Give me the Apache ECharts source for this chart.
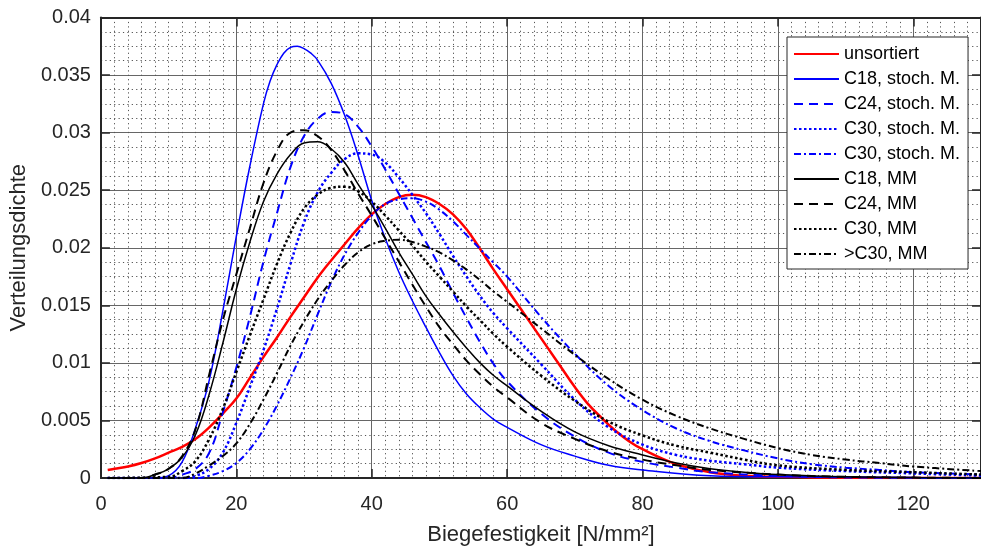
<!DOCTYPE html>
<html><head><meta charset="utf-8">
<script src="https://cdn.jsdelivr.net/npm/echarts@6/dist/echarts.min.js"></script>
<style>html,body{margin:0;padding:0;background:#fff}#c{width:981px;height:551px}</style>
</head><body><div id="c"></div>
<script>
// ---- data ----
const seriesNames = ['unsortiert','C18, stoch. M.','C24, stoch. M.','C30, stoch. M.','C30, stoch. M.\u200B','C18, MM','C24, MM','C30, MM','>C30, MM'];

const redX = [1,2,4,6,8,10,12,14,16,18,20,22,24,26,28,30,32,34,36,38,40,42,44,46,48,50,52,54,56,58,60,62,64,66,68,70,72,74,76,78,80,85,90,95,100,110,130];
const redY = [0.0007,0.0008,0.0010,0.0013,0.0017,0.0022,0.0027,0.0034,0.0044,0.0056,0.0069,0.0087,0.0105,0.0122,0.0140,0.0157,0.0174,0.0189,0.0203,0.0217,0.0229,0.0238,0.0244,0.0246,0.0244,0.0238,0.0229,0.0216,0.0199,0.0181,0.0164,0.0147,0.0130,0.0113,0.0096,0.0079,0.0064,0.0052,0.0041,0.0032,0.0025,0.0012,0.0005,0.0002,0.0001,0.00002,0];

const c18sX = [1,6,8,10,12,14,16,18,20,22,24,25,26,27,28,29,30,31,32,34,36,38,40,42,44,46,48,50,52,54,56,58,60,65,70,75,80,90,100,130];
const c18sY = [0,0,0,0.0002,0.0014,0.0044,0.0085,0.0145,0.0210,0.0271,0.0325,0.0345,0.0359,0.0369,0.0374,0.0375,0.0373,0.0369,0.0363,0.0343,0.0315,0.0280,0.0241,0.0208,0.0179,0.0154,0.0131,0.0109,0.0089,0.0073,0.0061,0.0051,0.0044,0.0029,0.0019,0.0011,0.0007,0.0002,0.0001,0];

const c24sX = [1,10,12,14,16,18,20,22,24,26,28,30,32,34,36,38,40,42,44,46,48,50,52,54,56,58,60,65,70,75,80,85,90,100,110,130];
const c24sY = [0,0,0.0003,0.0008,0.0022,0.0057,0.0096,0.0140,0.0188,0.0230,0.0270,0.0297,0.0312,0.0318,0.0316,0.0305,0.0288,0.0268,0.0247,0.0226,0.0205,0.0184,0.0161,0.0139,0.0118,0.0099,0.0084,0.0056,0.0036,0.0022,0.0014,0.0009,0.0005,0.0002,0.00005,0];

const c30sX = [1,12,14,16,18,20,22,24,26,28,30,32,34,36,38,40,42,44,46,48,50,52,54,56,58,60,65,70,75,80,85,90,95,100,110,120,130];
const c30sY = [0,0,0.0002,0.0008,0.0022,0.0048,0.0079,0.0111,0.0147,0.0186,0.0222,0.0248,0.0265,0.0277,0.0282,0.0281,0.0274,0.0261,0.0246,0.0230,0.0212,0.0193,0.0175,0.0158,0.0143,0.0130,0.0099,0.0068,0.0044,0.0029,0.0020,0.0015,0.0012,0.0009,0.0006,0.0004,0.0002];

const c30s2X = [1,14,16,18,20,22,24,26,28,30,32,34,36,38,40,42,44,46,48,50,52,54,56,58,60,65,70,75,80,85,90,95,100,105,110,115,120,130];
const c30s2Y = [0,0,0.0002,0.0006,0.0013,0.0025,0.0042,0.0063,0.0087,0.0113,0.0142,0.0170,0.0194,0.0213,0.0228,0.0238,0.0242,0.0243,0.0240,0.0233,0.0223,0.0211,0.0199,0.0187,0.0175,0.0140,0.0108,0.0080,0.0059,0.0043,0.0032,0.0024,0.0017,0.0012,0.0009,0.0007,0.0005,0.0003];

const c18mX = [1,6,8,10,12,14,16,18,20,22,24,26,28,30,32,34,36,38,40,42,44,46,48,50,52,54,56,58,60,65,70,75,80,85,90,95,100,110,130];
const c18mY = [0,0,0.0003,0.0008,0.0018,0.0038,0.0073,0.0117,0.0164,0.0205,0.0240,0.0264,0.0281,0.0291,0.0292,0.0286,0.0274,0.0255,0.0237,0.0217,0.0196,0.0177,0.0158,0.0142,0.0127,0.0113,0.0100,0.0089,0.0080,0.0058,0.0040,0.0028,0.0020,0.0013,0.0008,0.0005,0.0003,0.0001,0];

const c24mX = [1,6,8,10,12,14,16,18,20,22,24,26,28,30,32,34,36,38,40,42,44,46,48,50,52,54,56,58,60,65,70,75,80,85,90,100,110,130];
const c24mY = [0,0,0.0003,0.0008,0.0019,0.0043,0.0090,0.0137,0.0177,0.0217,0.0256,0.0284,0.0300,0.0302,0.0297,0.0285,0.0267,0.0247,0.0228,0.0208,0.0188,0.0168,0.0149,0.0131,0.0116,0.0102,0.0090,0.0079,0.0070,0.0048,0.0034,0.0023,0.0016,0.0011,0.0007,0.0003,0.0001,0];

const c30mX = [1,10,12,14,16,18,20,22,24,26,28,30,32,34,36,38,40,42,44,46,48,50,52,54,56,58,60,65,70,75,80,85,90,95,100,110,120,130];
const c30mY = [0,0.0001,0.0006,0.0015,0.0034,0.0060,0.0092,0.0124,0.0155,0.0186,0.0213,0.0234,0.0246,0.0252,0.0253,0.0249,0.0240,0.0228,0.0215,0.0202,0.0188,0.0175,0.0162,0.0149,0.0137,0.0125,0.0114,0.0089,0.0067,0.0049,0.0037,0.0028,0.0022,0.0016,0.0011,0.0007,0.0005,0.0003];

const gtc30mX = [1,12,14,16,18,20,22,24,26,28,30,32,34,36,38,40,42,44,46,48,50,52,54,56,58,60,65,70,75,80,85,90,95,100,105,110,115,120,130];
const gtc30mY = [0,0,0.0004,0.0011,0.0019,0.0030,0.0047,0.0068,0.0091,0.0115,0.0136,0.0155,0.0171,0.0185,0.0196,0.0203,0.0206,0.0207,0.0205,0.0201,0.0196,0.0189,0.0181,0.0172,0.0162,0.0153,0.0130,0.0107,0.0086,0.0068,0.0054,0.0043,0.0034,0.0026,0.0020,0.0016,0.0013,0.0010,0.0006];

const xTickValues = [0,20,40,60,80,100,120];
const yTickValues = [0,0.005,0.01,0.015,0.02,0.025,0.03,0.035,0.04];

// ---- chart ----
const FONT = '"Liberation Sans", Arial, Helvetica, sans-serif';
const AX = '#262626';
const zip = (xs, ys) => xs.map((x, i) => [x, ys[i]]);

const styles = [
  {color:'#ff0000', width:2.5, type:'solid'},
  {color:'#0000ff', width:1.5, type:'solid'},
  {color:'#0000ff', width:2, type:[9,6]},
  {color:'#0000ff', width:2.5, type:[2.5,2.5]},
  {color:'#0000ff', width:2, type:[7,3,2,3]},
  {color:'#000000', width:1.5, type:'solid'},
  {color:'#000000', width:2, type:[9,6]},
  {color:'#000000', width:2.5, type:[2.5,2.5]},
  {color:'#000000', width:2, type:[7,3,2,3]}
];
const dataSets = [zip(redX,redY), zip(c18sX,c18sY), zip(c24sX,c24sY), zip(c30sX,c30sY), zip(c30s2X,c30s2Y),
                  zip(c18mX,c18mY), zip(c24mX,c24mY), zip(c30mX,c30mY), zip(gtc30mX,gtc30mY)];

const series = dataSets.map((d, i) => ({
  name: seriesNames[i],
  type: 'line',
  data: d,
  smooth: 0.4,
  symbol: 'none',
  showSymbol: false,
  clip: true,
  color: styles[i].color,
  lineStyle: {color: styles[i].color, width: styles[i].width, type: styles[i].type},
  z: 3 + i
}));

const chart = echarts.init(document.getElementById('c'), null, {renderer:'canvas'});
chart.setOption({
  animation: false,
  backgroundColor: '#fff',
  textStyle: {fontFamily: FONT},
  grid: {left: 99, top: 17.5, right: -6.7, bottom: 65, containLabel: false},
  xAxis: [{
    type: 'value', min: 0, max: 130, interval: 20, position: 'bottom',
    name: 'Biegefestigkeit [N/mm²]', nameLocation: 'middle', nameGap: 46,
    nameTextStyle: {fontSize: 22, color: AX, fontFamily: FONT},
    axisLine: {show: true, onZero: false, lineStyle: {color: AX, width: 2}},
    axisTick: {show: true, inside: true, length: 9, lineStyle: {color: AX, width: 1.5}},
    axisLabel: {fontSize: 20, color: AX, margin: 16, fontFamily: FONT, showMaxLabel: false,
      formatter: v => (xTickValues.indexOf(v) >= 0 ? String(v) : '')},
    splitLine: {show: true, lineStyle: {color: '#666', width: 1}},
    minorTick: {show: false, splitNumber: 10},
    minorSplitLine: {show: true, lineStyle: {color: '#555', width: 1, type: [1.2, 3.2]}}
  }, {
    type: 'value', min: 0, max: 130, interval: 20, position: 'top',
    axisLine: {show: true, onZero: false, lineStyle: {color: AX, width: 2}},
    axisTick: {show: true, inside: true, length: 9, lineStyle: {color: AX, width: 1.5}},
    axisLabel: {show: false}, splitLine: {show: false}
  }],
  yAxis: [{
    type: 'value', min: 0, max: 0.04, interval: 0.005, position: 'left',
    name: 'Verteilungsdichte', nameLocation: 'middle', nameGap: 60,
    nameTextStyle: {fontSize: 22, color: AX, fontFamily: FONT},
    axisLine: {show: true, onZero: false, lineStyle: {color: AX, width: 2}},
    axisTick: {show: true, inside: true, length: 9, lineStyle: {color: AX, width: 1.5}},
    axisLabel: {fontSize: 20, color: AX, margin: 10, fontFamily: FONT},
    splitLine: {show: true, lineStyle: {color: '#666', width: 1}},
    minorTick: {show: false, splitNumber: 4},
    minorSplitLine: {show: true, lineStyle: {color: '#555', width: 1, type: [1.2, 3.2]}}
  }, {
    type: 'value', min: 0, max: 0.04, interval: 0.005, position: 'right',
    axisLine: {show: true, onZero: false, lineStyle: {color: AX, width: 2}},
    axisTick: {show: true, inside: true, length: 9, lineStyle: {color: AX, width: 1.5}},
    axisLabel: {show: false}, splitLine: {show: false}
  }],
  legend: {
    show: true, orient: 'vertical', left: 787, top: 37,
    backgroundColor: '#fff', borderColor: AX, borderWidth: 1, borderRadius: 0,
    padding: [8, 8, 6, 6],
    itemWidth: 45, itemHeight: 14, itemGap: 7,
    itemStyle: {opacity: 0},
    textStyle: {fontSize: 18, color: '#000', fontFamily: FONT},
    data: seriesNames,
    selectedMode: false
  },
  series: series
});
</script></body></html>
